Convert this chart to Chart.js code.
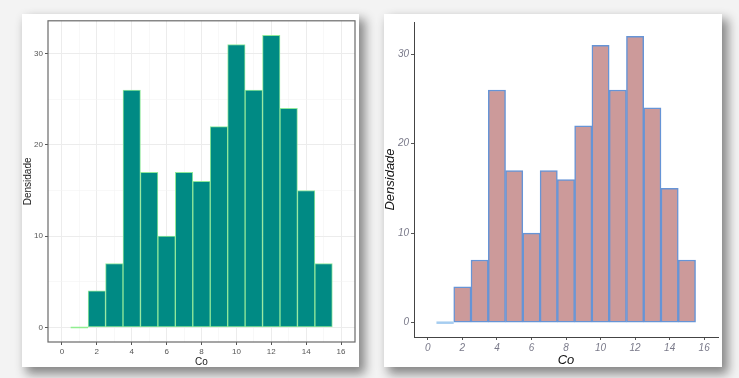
<!DOCTYPE html>
<html>
<head>
<meta charset="utf-8">
<script src="https://cdn.jsdelivr.net/npm/chart.js@4/dist/chart.umd.min.js"></script>
<style>
  html, body { margin:0; padding:0; }
  body { width:739px; height:378px; background:#f3f3f3; position:relative; overflow:hidden; font-family:"Liberation Sans", Arial, sans-serif; }
  .card { position:absolute; background:#fff; box-shadow: 5px 6px 10px 1px rgba(0,0,0,0.45); }
  #cardL { left:22px; top:14px; width:337px; height:353px; }
  #cardR { left:384px; top:14px; width:338px; height:353px; }
  canvas { position:absolute; left:0; top:0; }
</style>
</head>
<body>
<div class="card" id="cardL"><canvas id="left" width="337" height="353"></canvas></div>
<div class="card" id="cardR"><canvas id="right" width="338" height="353"></canvas></div>
<script>
// ---- data ----
const binCenters = [1, 2, 3, 4, 5, 6, 7, 8, 9, 10, 11, 12, 13, 14, 15];
const counts     = [0, 4, 7, 26, 17, 10, 17, 16, 22, 31, 26, 32, 24, 15, 7];
const binWidth = 1;
const xTicks = [0, 2, 4, 6, 8, 10, 12, 14, 16];
const yTicks = [0, 10, 20, 30];
const xTitle = "Co";
const yTitle = "Densidade";
const xRange = [-0.8, 16.8];
const yRange = [-1.6, 33.6];

const barPoints = binCenters.map((c, i) => ({ x: c, y: counts[i] }));
const zeroSegments = [];
binCenters.forEach((c, i) => {
  if (counts[i] === 0) {
    zeroSegments.push({ x: c - binWidth / 2, y: 0 });
    zeroSegments.push({ x: c + binWidth / 2, y: 0 });
  }
});

function midpoints(arr) {
  const out = [];
  for (let i = 0; i < arr.length - 1; i++) out.push((arr[i] + arr[i + 1]) / 2);
  return out;
}
const xMinor = midpoints(xTicks);
const yMinor = midpoints(yTicks);

const FONT = "'Liberation Sans', Arial, sans-serif";

const panelBorder = {
  id: 'panelBorder',
  afterDatasetsDraw(chart, args, opts) {
    if (!opts.draw) return;
    const a = chart.chartArea, c = chart.ctx;
    c.save();
    c.strokeStyle = opts.color; c.lineWidth = opts.width;
    c.strokeRect(a.left, a.top, a.right - a.left, a.bottom - a.top);
    c.restore();
  }
};

// ---- left chart (theme_bw style) ----
const isMajorX = v => xTicks.includes(v);
const isMajorY = v => yTicks.includes(v);
const tv = c => (c && c.tick) ? c.tick.value : NaN;

new Chart(document.getElementById('left'), {
  type: 'bar',
  data: {
    datasets: [
      { type: 'line', data: zeroSegments, borderColor: '#90ee90', borderWidth: 1.5, pointRadius: 0, fill: false, order: 0 },
      { data: barPoints, backgroundColor: '#008a84', borderColor: '#8fe89a', borderWidth: 1,
        borderSkipped: false, barPercentage: 1, categoryPercentage: 1, order: 1 }
    ]
  },
  options: {
    responsive: false, animation: false, events: [],
    layout: { padding: { left: 0, right: 4, top: 3, bottom: 0 } },
    plugins: { legend: { display: false }, tooltip: { enabled: false },
      panelBorder: { draw: true, color: '#6a6a6a', width: 1.2 } },
    scales: {
      x: {
        type: 'linear', offset: false, min: xRange[0], max: xRange[1],
        afterBuildTicks: s => { s.ticks = [...xTicks, ...xMinor].sort((a, b) => a - b).map(v => ({ value: v })); },
        afterFit: s => { s.height = 25; },
        ticks: { autoSkip: false, maxRotation: 0, padding: 2, color: '#555', font: { family: FONT, size: 8 },
          callback: v => isMajorX(v) ? String(v) : '' },
        grid: {
          offset: false,
          color: c => isMajorX(tv(c)) ? '#ececec' : '#f4f4f4',
          lineWidth: c => isMajorX(tv(c)) ? 1 : 0.6,
          tickColor: c => isMajorX(tv(c)) ? '#555' : 'rgba(0,0,0,0)',
          tickLength: 3
        },
        border: { display: false },
        title: { display: true, text: xTitle, color: '#222', font: { family: FONT, size: 10, lineHeight: 1 }, padding: { top: 0, bottom: 0 } }
      },
      y: {
        min: yRange[0], max: yRange[1],
        afterBuildTicks: s => { s.ticks = [...yTicks, ...yMinor].sort((a, b) => a - b).map(v => ({ value: v })); },
        afterFit: s => { s.width = 26; },
        ticks: { autoSkip: false, padding: 2, color: '#555', font: { family: FONT, size: 8 },
          callback: v => isMajorY(v) ? String(v) : '' },
        grid: {
          color: c => isMajorY(tv(c)) ? '#ececec' : '#f4f4f4',
          lineWidth: c => isMajorY(tv(c)) ? 1 : 0.6,
          tickColor: c => isMajorY(tv(c)) ? '#555' : 'rgba(0,0,0,0)',
          tickLength: 3
        },
        border: { display: false },
        title: { display: true, text: yTitle, color: '#222', font: { family: FONT, size: 10 }, padding: { top: 0, bottom: 0 } }
      }
    }
  },
  plugins: [panelBorder]
});

// ---- right chart (theme_classic style) ----
new Chart(document.getElementById('right'), {
  type: 'bar',
  data: {
    datasets: [
      { type: 'line', data: zeroSegments, borderColor: '#a6cdf0', borderWidth: 2.5, pointRadius: 0, fill: false, order: 0 },
      { data: barPoints, backgroundColor: '#cc9a9a', borderColor: '#6694d6', borderWidth: 1.5,
        borderSkipped: false, barPercentage: 1, categoryPercentage: 1, order: 1 }
    ]
  },
  options: {
    responsive: false, animation: false, events: [],
    layout: { padding: { left: 0, right: 4, top: 3, bottom: 0 } },
    plugins: { legend: { display: false }, tooltip: { enabled: false }, panelBorder: { draw: false } },
    scales: {
      x: {
        type: 'linear', offset: false, min: xRange[0], max: xRange[1],
        afterBuildTicks: s => { s.ticks = xTicks.map(v => ({ value: v })); },
        afterFit: s => { s.height = 30; },
        ticks: { autoSkip: false, maxRotation: 0, padding: 2, color: '#7a7a8a', font: { family: FONT, size: 10, style: 'italic' } },
        grid: { offset: false, drawOnChartArea: false, drawTicks: true, tickLength: 3, tickColor: '#555' },
        border: { display: true, color: '#444', width: 1 },
        title: { display: true, text: xTitle, color: '#111', font: { family: FONT, size: 13, style: 'italic', lineHeight: 1 }, padding: { top: 0, bottom: 0 } }
      },
      y: {
        min: yRange[0], max: yRange[1],
        afterBuildTicks: s => { s.ticks = yTicks.map(v => ({ value: v })); },
        afterFit: s => { s.width = 30; },
        ticks: { autoSkip: false, padding: 2, color: '#7a7a8a', font: { family: FONT, size: 10, style: 'italic' } },
        grid: { drawOnChartArea: false, drawTicks: true, tickLength: 3, tickColor: '#555' },
        border: { display: true, color: '#444', width: 1 },
        title: { display: true, text: yTitle, color: '#111', font: { family: FONT, size: 13, style: 'italic', lineHeight: 1 }, padding: { top: 0, bottom: 0 } }
      }
    }
  },
  plugins: [panelBorder]
});
</script>
</body>
</html>
